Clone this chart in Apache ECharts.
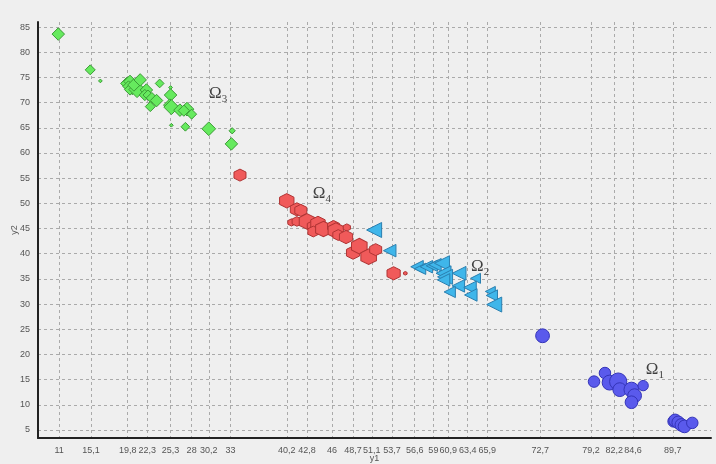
<!DOCTYPE html>
<html><head><meta charset="utf-8">
<script src="https://cdn.jsdelivr.net/npm/echarts@6/dist/echarts.min.js"></script>
<style>html,body{margin:0;padding:0;background:#efefef}#c{width:716px;height:464px}</style>
</head><body><div id="c"></div>
<script>
// Tick labels
const xTicks = [11, 15.1, 19.8, 22.3, 25.3, 28, 30.2, 33, 40.2, 42.8, 46, 48.7, 51.1, 53.7, 56.6, 59, 60.9, 63.4, 65.9, 72.7, 79.2, 82.2, 84.6, 89.7];
const yTicks = [5, 10, 15, 20, 25, 30, 35, 40, 45, 50, 55, 60, 65, 70, 75, 80, 85];

// Ω3 (green diamonds): [y1, y2, size]
const omega3 = [
  [10.9, 83.6, 10], [15.0, 76.5, 8], [16.3, 74.3, 3],
  [19.7, 73.8, 10], [20.1, 74.2, 10], [19.9, 73.2, 9], [20.4, 72.8, 10], [20.1, 72.6, 9],
  [21.0, 72.6, 13], [20.6, 73.5, 10], [21.4, 74.5, 10], [22.2, 72.5, 10], [22.0, 71.5, 9],
  [22.4, 71.5, 8], [22.9, 70.9, 9], [22.7, 69.2, 8], [23.5, 70.4, 10], [23.9, 73.8, 7],
  [25.3, 73.0, 3], [25.3, 71.5, 10], [25.2, 69.5, 10], [25.4, 69.1, 12], [25.4, 65.5, 3],
  [26.5, 68.5, 10], [27.2, 65.2, 7], [27.4, 68.7, 11], [27.0, 68.4, 9], [28.0, 67.7, 8],
  [30.2, 64.8, 11], [33.2, 64.4, 5], [33.1, 61.8, 10]
];
// Ω4 (red hexagons)
const omega4 = [
  [34.2, 55.6, 10], [40.2, 50.5, 12], [41.5, 48.8, 11], [42.0, 48.6, 10], [40.8, 46.2, 6],
  [41.5, 46.4, 8], [42.8, 46.4, 13], [43.6, 45.4, 10], [44.2, 46.0, 12], [43.6, 44.4, 9],
  [44.9, 44.9, 13], [46.2, 45.4, 10], [46.5, 44.6, 13], [46.8, 43.7, 9], [47.9, 45.2, 6],
  [47.8, 43.3, 11], [48.7, 40.2, 11], [49.5, 41.5, 13], [50.7, 39.4, 13], [51.6, 40.8, 10],
  [53.9, 36.1, 11], [55.4, 36.1, 3]
];
// Ω2 (cyan triangles)
const omega2 = [
  [51.4, 44.7, 12], [53.4, 40.6, 10], [56.9, 37.4, 10], [57.3, 37.0, 9], [58.1, 37.4, 10],
  [58.8, 37.6, 9], [59.2, 37.8, 10], [60.1, 38.1, 12], [60.3, 36.1, 12], [60.5, 35.4, 12],
  [60.3, 34.8, 10], [62.3, 36.1, 11], [64.4, 35.1, 8], [62.2, 33.6, 10], [61.1, 32.4, 9],
  [63.7, 33.3, 10], [63.8, 31.8, 10], [66.3, 32.5, 8], [66.5, 31.7, 9], [66.8, 29.9, 12]
];
// Ω1 (blue circles)
const omega1 = [
  [73.0, 23.7, 12], [79.6, 14.6, 10], [81.0, 16.3, 10], [81.6, 14.4, 13], [82.7, 14.6, 15],
  [82.9, 13.0, 12], [84.4, 13.0, 13], [84.8, 11.8, 12], [84.4, 10.5, 11], [85.9, 13.8, 9],
  [89.8, 6.7, 10], [90.0, 6.9, 11], [90.4, 6.5, 11], [90.8, 6.0, 11], [91.2, 5.7, 11], [92.2, 6.4, 10]
];
// Cluster annotations: [y1, y2, index]
const labels = [[31.4, 72.1, '3'], [44.7, 52.3, '4'], [65.0, 37.8, '2'], [87.4, 17.3, '1']];

const hex = 'path://M50,0 L93.3,25 L93.3,75 L50,100 L6.7,75 L6.7,25 Z';
const tri = 'path://M0,50 L100,0 L100,100 Z';
const fmt = v => String(v).replace('.', ',');

function sc(name, data, symbol, color, border, k) {
  return {
    name, type: 'scatter', data, symbol,
    symbolSize: d => d[2] * k,
    itemStyle: { color, borderColor: border, borderWidth: 1, opacity: 1 },
    z: 3
  };
}

const chart = echarts.init(document.getElementById('c'));
chart.setOption({
  backgroundColor: '#efefef',
  animation: false,
  grid: { left: 38, right: 5, top: 22, bottom: 26, containLabel: false, outerBoundsMode: 'none' },
  xAxis: {
    type: 'value', min: 8.3, max: 94.6,
    name: 'y1', nameLocation: 'middle', nameGap: 16, nameMoveOverlap: false,
    nameTextStyle: { color: '#555', fontSize: 9, fontFamily: 'Liberation Sans' },
    axisLine: { lineStyle: { color: '#222', width: 2 } },
    axisTick: { show: false, customValues: xTicks },
    axisLabel: { customValues: xTicks, formatter: fmt, color: '#555', fontSize: 9, margin: 8, fontFamily: 'Liberation Sans' },
    splitLine: { show: true, lineStyle: { color: '#aaa', type: [3, 3], width: 1 } }
  },
  yAxis: {
    type: 'value', min: 3.4, max: 86,
    name: 'y2', nameLocation: 'middle', nameGap: 18.5, nameRotate: 90, nameMoveOverlap: false,
    nameTextStyle: { color: '#555', fontSize: 9, fontFamily: 'Liberation Sans' },
    axisLine: { lineStyle: { color: '#222', width: 2 } },
    axisTick: { show: false, customValues: yTicks },
    axisLabel: { customValues: yTicks, color: '#555', fontSize: 9, margin: 8, fontFamily: 'Liberation Sans' },
    splitLine: { show: true, lineStyle: { color: '#aaa', type: [3, 3], width: 1 } }
  },
  series: [
    sc('Ω3', omega3, 'diamond', '#66ea5e', '#3b9b36', 1.25),
    sc('Ω4', omega4, hex, '#f05a5a', '#b03434', 1.2),
    sc('Ω2', omega2, tri, '#3fb6ea', '#2a7fb0', 1.25),
    sc('Ω1', omega1, 'circle', '#5a5aec', '#3434b8', 1.15),
    {
      type: 'scatter', data: labels, symbolSize: 0, z: 5,
      label: {
        show: true, position: 'inside',
        formatter: p => '{a|Ω}{s|' + p.value[2] + '}',
        rich: {
          a: { fontFamily: 'Liberation Serif', fontSize: 17, color: '#111', lineHeight: 20, verticalAlign: 'bottom' },
          s: { fontFamily: 'Liberation Serif', fontSize: 11, color: '#111', lineHeight: 20, verticalAlign: 'bottom', padding: [0, 0, -3, 0] }
        }
      }
    }
  ]
});
</script></body></html>
